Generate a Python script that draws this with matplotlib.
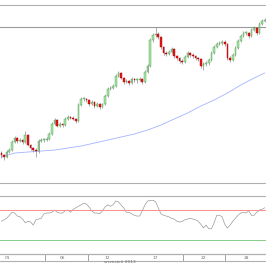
import matplotlib
matplotlib.use("Agg")
import matplotlib.pyplot as plt
import numpy as np

# candle data (arbitrary price level units)
first_open = 47
closes = [45, 43, 48, 50, 58, 62, 59, 60, 58, 65,
          55, 52, 50, 49, 59, 60, 60, 61, 66, 76,
          80, 74, 76, 75, 81, 83, 82, 81, 79, 95,
          101, 101, 100, 96, 98, 94, 96, 93, 96, 104,
          111, 112, 114, 124, 127, 122, 118, 119, 117, 121,
          120, 120, 121, 118, 128, 134, 160, 165, 166, 163,
          153, 147, 146, 148, 151, 144, 142, 139, 138, 143,
          147, 145, 144, 142, 141, 134, 136, 137, 140, 147,
          153, 156, 157, 158, 156, 142, 140, 145, 152, 159,
          164, 167, 167, 164, 170, 172, 167, 176, 179, 180]
highs = [49, 46, 50, 52, 60, 64, 63, 62, 61, 69,
         66, 56, 53, 52, 61, 62, 62, 63, 68, 78,
         82, 81, 78, 77, 83, 85, 84, 84, 82, 97,
         103, 103, 102, 101, 100, 99, 98, 97, 97, 106,
         113, 114, 116, 126, 129, 128, 123, 121, 120, 123,
         122, 122, 123, 122, 130, 136, 162, 167, 173, 168,
         164, 154, 149, 150, 153, 152, 145, 143, 141, 145,
         149, 148, 147, 145, 143, 142, 138, 139, 142, 149,
         155, 158, 159, 160, 160, 157, 144, 147, 154, 161,
         166, 169, 169, 168, 172, 174, 173, 178, 181, 182]
lows = [42, 40, 42, 47, 49, 57, 57, 58, 56, 57,
        54, 50, 48, 43, 47, 58, 58, 59, 60, 65,
        75, 73, 73, 73, 74, 80, 81, 80, 77, 78,
        94, 99, 98, 94, 95, 92, 93, 91, 92, 95,
        103, 110, 111, 113, 123, 121, 116, 117, 115, 116,
        118, 117, 119, 116, 117, 127, 133, 158, 163, 161,
        151, 145, 144, 145, 147, 142, 140, 137, 136, 137,
        142, 143, 142, 140, 139, 132, 130, 134, 135, 139,
        146, 152, 155, 155, 154, 140, 138, 139, 144, 151,
        158, 163, 165, 162, 163, 169, 165, 166, 175, 178]
resistance = 173

# moving average, sampled every 5 candles
ma_idx = [0, 5, 10, 15, 20, 25, 30, 35, 40, 45, 50, 55, 60, 65, 70, 75, 80, 85, 90, 95, 99]
ma_vals = [43, 47, 48, 49, 50, 52, 54, 57, 60, 63, 66, 70, 75, 81, 87, 94, 100, 107, 115, 122, 127]

# oscillator (lower panel)
osc = [55, 57, 59, 63, 67, 66, 62, 61, 58, 53,
       55, 54, 50, 57, 58, 59, 65, 66, 66, 67,
       70, 67, 66, 66, 69, 70, 67, 71, 73, 75,
       77, 79, 78, 74, 69, 66, 66, 65, 69, 74,
       77, 75, 77, 82, 81, 77, 73, 67, 67, 65,
       63, 62, 62, 69, 77, 82, 83, 83, 81, 73,
       65, 63, 62, 61, 59, 58, 55, 54, 55, 57,
       58, 59, 58, 57, 55, 51, 46, 50, 45, 45,
       53, 63, 63, 61, 51, 46, 50, 55, 59, 63,
       66, 67, 66, 69, 63, 63, 67, 70, 71, 73]
osc_high, osc_low = 70, 30

day_pos = [2.5, 23, 40, 58, 76, 92]
day_labels = ['01', '06', '12', '17', '22', '28']
week_sep = [16.4, 32.6, 68.3, 84.1]
month_label = 'wrzesień 2013'

frame = '#b0b0b0'
n = len(closes)
x = np.arange(n)
opens = np.array([first_open] + closes[:-1])
closes = np.array(closes)

fig = plt.figure(figsize=(2.66, 2.66), dpi=100)
ax = fig.add_axes([0, 0.312, 1, 0.669])
ax2 = fig.add_axes([0, 0.045, 1, 0.218])
ax3 = fig.add_axes([0, 0.0188, 1, 0.0263])

# candles
up = closes >= opens
body_lo = np.minimum(opens, closes)
body_h = np.maximum(np.abs(closes - opens), 0.8)
ax.vlines(x, lows, highs, color='#808080', lw=0.45, zorder=2)
ax.bar(x[up], body_h[up], 0.62, bottom=body_lo[up], color='#a8e6a8',
       edgecolor='#4a9a4a', lw=0.3, zorder=3)
ax.bar(x[~up], body_h[~up], 0.62, bottom=body_lo[~up], color='#e41818',
       edgecolor='#b00000', lw=0.3, zorder=3)
ax.plot(ma_idx, ma_vals, color='#a4b2ff', lw=0.6, zorder=1)
ax.axhline(resistance, color='#9a9a9a', lw=0.8, zorder=1)
ax.set_ylim(17, 195)

# oscillator
ax2.plot(x, osc, color='#9a9a9a', lw=0.5)
ax2.axhline(osc_high, color='#ff8a8a', lw=0.7)
ax2.axhline(osc_low, color='#88cc88', lw=0.7)
ax2.set_ylim(11.3, 88.7)

# date strip
for d, lab in zip(day_pos, day_labels):
    ax3.text(d, 0.5, lab, fontsize=3.2, color='#707070', ha='center', va='center')
for s in week_sep:
    ax3.axvline(s, color='#808080', lw=0.5)
ax3.set_ylim(0, 1)
fig.text(0.45, 0.006, month_label, fontsize=3.2, color='#707070', ha='center', va='bottom')

for a in (ax, ax2, ax3):
    a.set_xlim(-0.5, n - 0.5)
    a.set_xticks([])
    a.set_yticks([])
    a.spines['left'].set_visible(False)
    a.spines['right'].set_visible(False)
    a.spines['top'].set_color(frame)
    a.spines['bottom'].set_color(frame)
    a.spines['top'].set_linewidth(0.8)
    a.spines['bottom'].set_linewidth(0.8)
    a.patch.set_alpha(0)

fig.savefig('out.png', dpi=100, facecolor='white')
